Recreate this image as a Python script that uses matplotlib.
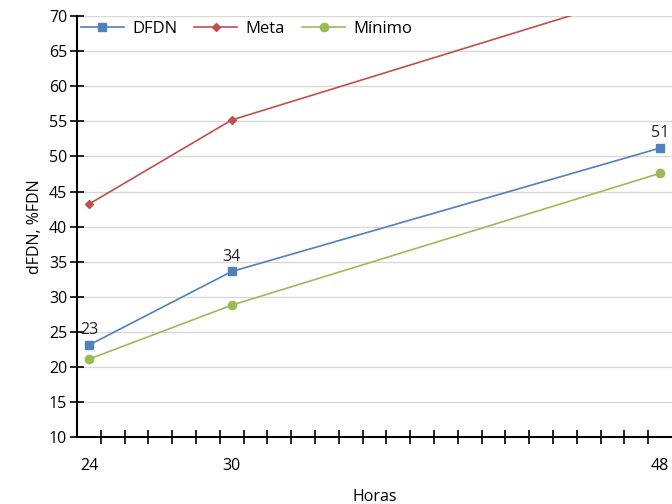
import numpy as np
import matplotlib
matplotlib.use("Agg")
import matplotlib.pyplot as plt

plt.rcParams['font.family'] = ['Open Sans', 'DejaVu Sans']

# datos
horas = [24, 30, 48]
dfdn = [23.1, 33.6, 51.2]
meta = [43.2, 55.2, 74.0]
minimo = [21.1, 28.8, 47.6]
etiquetas_dfdn = ["23", "34", "51"]
ticks_x = [24, 30, 48]

fig = plt.figure(figsize=(6.72, 5.04), dpi=100)
ax = fig.add_axes([0.1146, 0.1329, 0.8854, 0.835])

ax.plot(horas, dfdn, color="#4F81BD", marker="s", markersize=6, lw=1.2, label="DFDN")
ax.plot(horas, meta, color="#C0504D", marker="D", markersize=4, lw=1.2, label="Meta")
ax.plot(horas, minimo, color="#9BBB59", marker="o", markersize=6, lw=1.2, label="Mínimo")

for x, y, t in zip(horas, dfdn, etiquetas_dfdn):
    ax.annotate(t, (x, y), xytext=(0, 5), textcoords="offset points",
                ha="center", va="bottom", fontsize=11.5, color="#222222")

ax.set_xlim(23.5, 48.5)
ax.set_ylim(10, 70)
ax.set_yticks(np.arange(10, 71, 5))
ax.set_xticks(ticks_x)
ax.set_xticks(np.arange(24.5, 48.5, 1), minor=True)
ax.tick_params(axis="x", which="major", length=0, pad=15, labelsize=11.5)
ax.tick_params(axis="x", which="minor", direction="inout", length=10, width=1.2)
ax.tick_params(axis="y", direction="inout", length=10, width=1.2, labelsize=11.5, pad=2)

ax.grid(axis="y", color="#d9d9d9", lw=1)
ax.set_axisbelow(True)
for s in ["top", "right"]:
    ax.spines[s].set_visible(False)
ax.spines["left"].set_linewidth(1.5)
ax.spines["bottom"].set_linewidth(1.5)

ax.set_xlabel("Horas", fontsize=11.5, labelpad=11)
ax.set_ylabel("dFDN, %FDN", fontsize=11.5, labelpad=4)

ax.legend(loc="upper left", ncol=3, frameon=False, fontsize=12,
          bbox_to_anchor=(-0.005, 1.005), handlelength=2.6, columnspacing=1.0,
          handletextpad=0.5, borderaxespad=0)

fig.savefig("out.png", dpi=100)
